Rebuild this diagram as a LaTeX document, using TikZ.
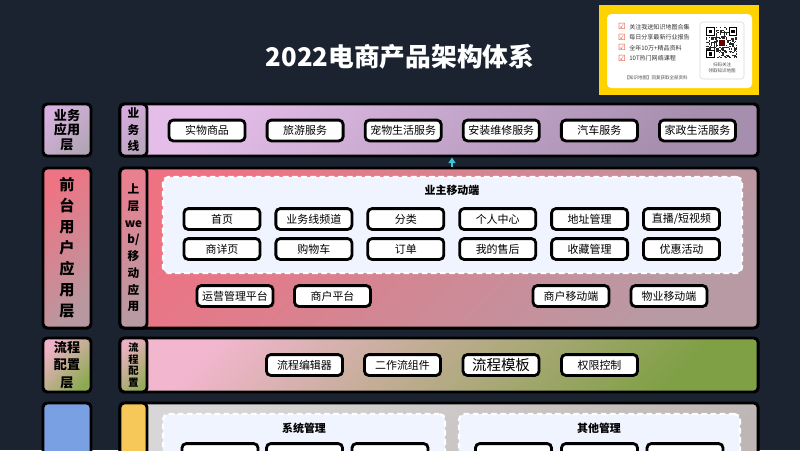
\documentclass[tikz,border=0pt]{standalone}
\usepackage{fontspec}
\setmainfont{Noto Sans CJK SC}
\newfontfamily\symfont{DejaVu Sans}
\usetikzlibrary{arrows.meta}

\definecolor{bgdark}{HTML}{1B2230}
\definecolor{paneblue}{HTML}{F0F4FE}
\definecolor{promoyellow}{HTML}{FFD300}
\definecolor{checkred}{HTML}{E0452A}
\definecolor{arrowcyan}{HTML}{3EC6D8}
% layer colours
\definecolor{labAtop}{RGB}{215,176,224}
\definecolor{labAbot}{RGB}{178,166,182}
\definecolor{rowAtop}{RGB}{228,190,233}
\definecolor{rowAbot}{RGB}{166,142,174}
\definecolor{stripAtop}{RGB}{214,172,222}
\definecolor{stripAbot}{RGB}{184,166,188}
\definecolor{labBtop}{RGB}{238,116,132}
\definecolor{labBbot}{RGB}{184,152,160}
\definecolor{rowBtop}{RGB}{238,114,130}
\definecolor{rowBbot}{RGB}{184,154,164}
\definecolor{stripBtop}{RGB}{232,128,144}
\definecolor{stripBbot}{RGB}{184,154,162}
\definecolor{labCtop}{RGB}{240,178,200}
\definecolor{labCbot}{RGB}{140,170,82}
\definecolor{rowCtop}{RGB}{242,182,206}
\definecolor{rowCbot}{RGB}{128,160,70}
\definecolor{stripCtop}{RGB}{236,176,196}
\definecolor{stripCbot}{RGB}{150,172,90}
\definecolor{labDfill}{RGB}{122,160,228}
\definecolor{rowDtop}{RGB}{216,214,214}
\definecolor{rowDbot}{RGB}{190,182,180}
\definecolor{stripDfill}{RGB}{246,200,90}

\tikzset{
  btn/.style={draw=black, line width=2pt, fill=white, rounded corners=3pt,
    minimum width=1.9cm, minimum height=0.52cm, inner sep=0pt,
    font=\fontsize{7.8}{9}\selectfont},
  laybox/.style={draw=black, line width=2.1pt, rounded corners=3pt,
    inner sep=0pt, align=center},
  diag/.style={top color=#1top, bottom color=#1bot, shading angle=45},
  dashbox/.style={draw=white, dashed, dash pattern=on 4pt off 2.5pt,
    line width=1.6pt, fill=paneblue, rounded corners=4pt, inner sep=0pt},
  promo/.style={anchor=west, inner sep=0pt, text=black!80,
    font=\fontsize{4.3}{5}\selectfont},
  uparrow/.style={draw=arrowcyan, line width=1pt,
    -{Triangle[width=5pt,length=4pt]}},
}

\begin{document}
\begin{tikzpicture}[x=0.025cm, y=-0.025cm]
  \clip (0,0) rectangle (800,450);
  \fill[bgdark] (0,0) rectangle (800,450);

  % title
  \node (title) at (400,57) [text=white, font=\bfseries\fontsize{18.3}{21}\selectfont] {2022电商产品架构体系};

  % promo card
  \fill[promoyellow] (599,5) rectangle (759,95);
  \fill[white, rounded corners=3pt] (607,14) rectangle (752,88);
  \foreach \t [count=\i from 0] in {关注我送知识地图合集,每日分享最新行业报告,全年10万+精品资料,10T热门网络课程}{
    \node (chk\i) at (622,26.7+10.5*\i) [text=checkred, inner sep=0pt, font=\symfont\fontsize{6}{6}\selectfont] {☑};
    \node (promo\i) at (629,26.7+10.5*\i) [promo] {\t};
  }
  \node (promofoot) at (656,78) [inner sep=0pt, text=black!70, font=\fontsize{3.2}{4}\selectfont] {【知识地图】回复获取全部资料};
  \draw[black!15, fill=white, rounded corners=2pt, line width=0.4pt] (700,22) rectangle (744,79);
  \pgfmathsetseed{17}
  \foreach \i in {0,...,24}{
    \foreach \j in {0,...,24}{
      \pgfmathrandominteger{\r}{0}{1}
      \ifnum\r=1 \fill[black!85] (706+\i*1.25,27+\j*1.25) rectangle ++(1.25,1.25);\fi
    }
  }
  \foreach \cx/\cy in {706/27,728.5/27,706/49.5}{
    \fill[white] (\cx,\cy) rectangle ++(10,10);
    \fill[black] (\cx,\cy) rectangle ++(8.75,8.75);
    \fill[white] (\cx+1.25,\cy+1.25) rectangle ++(6.25,6.25);
    \fill[black] (\cx+2.5,\cy+2.5) rectangle ++(3.75,3.75);
  }
  \fill[white] (718,39) rectangle ++(7.5,7.5);
  \fill[red!40!black] (719,40) rectangle ++(5.5,5.5);
  \node (qrcap) at (722,67.5) [inner sep=0pt, align=center, text=black!70, font=\fontsize{3.2}{4.2}\selectfont] {扫码关注\\领取知识地图};

  % layer 1
  \node (labA) at (67,130) [laybox, diag=labA,
    minimum width=1.2cm, minimum height=1.3cm, font=\bfseries\fontsize{9.3}{10.3}\selectfont] {业务\\应用\\层};
  \node (rowA) at (439,130) [laybox, diag=rowA, minimum width=15.95cm, minimum height=1.3cm] {};
  \node (stripA) at (133.5,130) [laybox, diag=stripA,
    minimum width=0.675cm, minimum height=1.3cm, font=\bfseries\fontsize{8.3}{11.7}\selectfont] {业\\务\\线};
  \foreach \t [count=\i from 0] in {实物商品,旅游服务,宠物生活服务,安装维修服务,汽车服务,家政生活服务}
    \node (biz\i) at (207+98.1*\i,130.5) [btn] {\t};

  % layer 2
  \node (labB) at (67,248) [laybox, diag=labB,
    minimum width=1.2cm, minimum height=4cm, font=\bfseries\fontsize{10.8}{14.9}\selectfont] {前\\台\\用\\户\\应\\用\\层};
  \node (rowB) at (439,248) [laybox, diag=rowB, minimum width=15.95cm, minimum height=4cm] {};
  \node (stripB) at (133.5,248) [laybox, diag=stripB,
    minimum width=0.675cm, minimum height=4cm, font=\bfseries\fontsize{8.3}{11.9}\selectfont] {上\\层\\we\\b/\\移\\动\\应\\用};
  \node (ownerpane) at (452.5,225) [dashbox, minimum width=14.475cm, minimum height=2.4cm] {};
  \node (ownertitle) at (452,190) [font=\bfseries\fontsize{7.8}{9}\selectfont] {业主移动端};
  \foreach \t [count=\i from 0] in {首页,业务线频道,分类,个人中心,地址管理,直播/短视频}
    \node (ownA\i) at (222+91.9*\i,219) [btn] {\t};
  \foreach \t [count=\i from 0] in {商详页,购物车,订单,我的售后,收藏管理,优惠活动}
    \node (ownB\i) at (222+91.9*\i,249) [btn] {\t};
  \node (ops) at (235,296) [btn] {运营管理平台};
  \node (merchant) at (332.5,296) [btn] {商户平台};
  \node (merchantapp) at (571,296) [btn] {商户移动端};
  \node (propertyapp) at (669,296) [btn] {物业移动端};

  \coordinate (upx) at (452,0);
  \draw[uparrow] (rowB.north -| upx) -- (rowA.south -| upx);

  % layer 3
  \node (labC) at (67,365) [laybox, diag=labC,
    minimum width=1.2cm, minimum height=1.35cm, font=\bfseries\fontsize{9.3}{12.4}\selectfont] {流程\\配置\\层};
  \node (rowC) at (439,365) [laybox, diag=rowC, minimum width=15.95cm, minimum height=1.35cm] {};
  \node (stripC) at (133.5,365) [laybox, diag=stripC,
    minimum width=0.675cm, minimum height=1.35cm, font=\bfseries\fontsize{7.3}{8.4}\selectfont] {流\\程\\配\\置};
  \node (flowedit) at (304.5,365) [btn] {流程编辑器};
  \node (flowcomp) at (402.5,365) [btn] {二作流组件};
  \node (flowtpl) at (501,365) [btn, font=\fontsize{10.3}{11}\selectfont] {流程模板};
  \node (perm) at (599.5,365) [btn] {权限控制};

  % layer 4
  \node (labD) at (67,463) [laybox, fill=labDfill, minimum width=1.2cm, minimum height=3cm] {};
  \node (rowD) at (439,463) [laybox, diag=rowD, minimum width=15.95cm, minimum height=3cm] {};
  \node (stripD) at (133.5,463) [laybox, fill=stripDfill, minimum width=0.675cm, minimum height=3cm] {};
  \node (syspane) at (304,460) [dashbox, minimum width=7.05cm, minimum height=2.3cm] {};
  \node (otherpane) at (599.5,460) [dashbox, minimum width=7.025cm, minimum height=2.3cm] {};
  \node (systitle) at (304,428) [font=\bfseries\fontsize{7.8}{9}\selectfont] {系统管理};
  \node (othertitle) at (599,428) [font=\bfseries\fontsize{7.8}{9}\selectfont] {其他管理};
  \foreach \x [count=\i from 0] in {220,304.5,390}
    \node (sys\i) at (\x,454) [btn] {};
  \foreach \x [count=\i from 0] in {513.5,599.5,685}
    \node (other\i) at (\x,454) [btn] {};
\end{tikzpicture}
\end{document}
